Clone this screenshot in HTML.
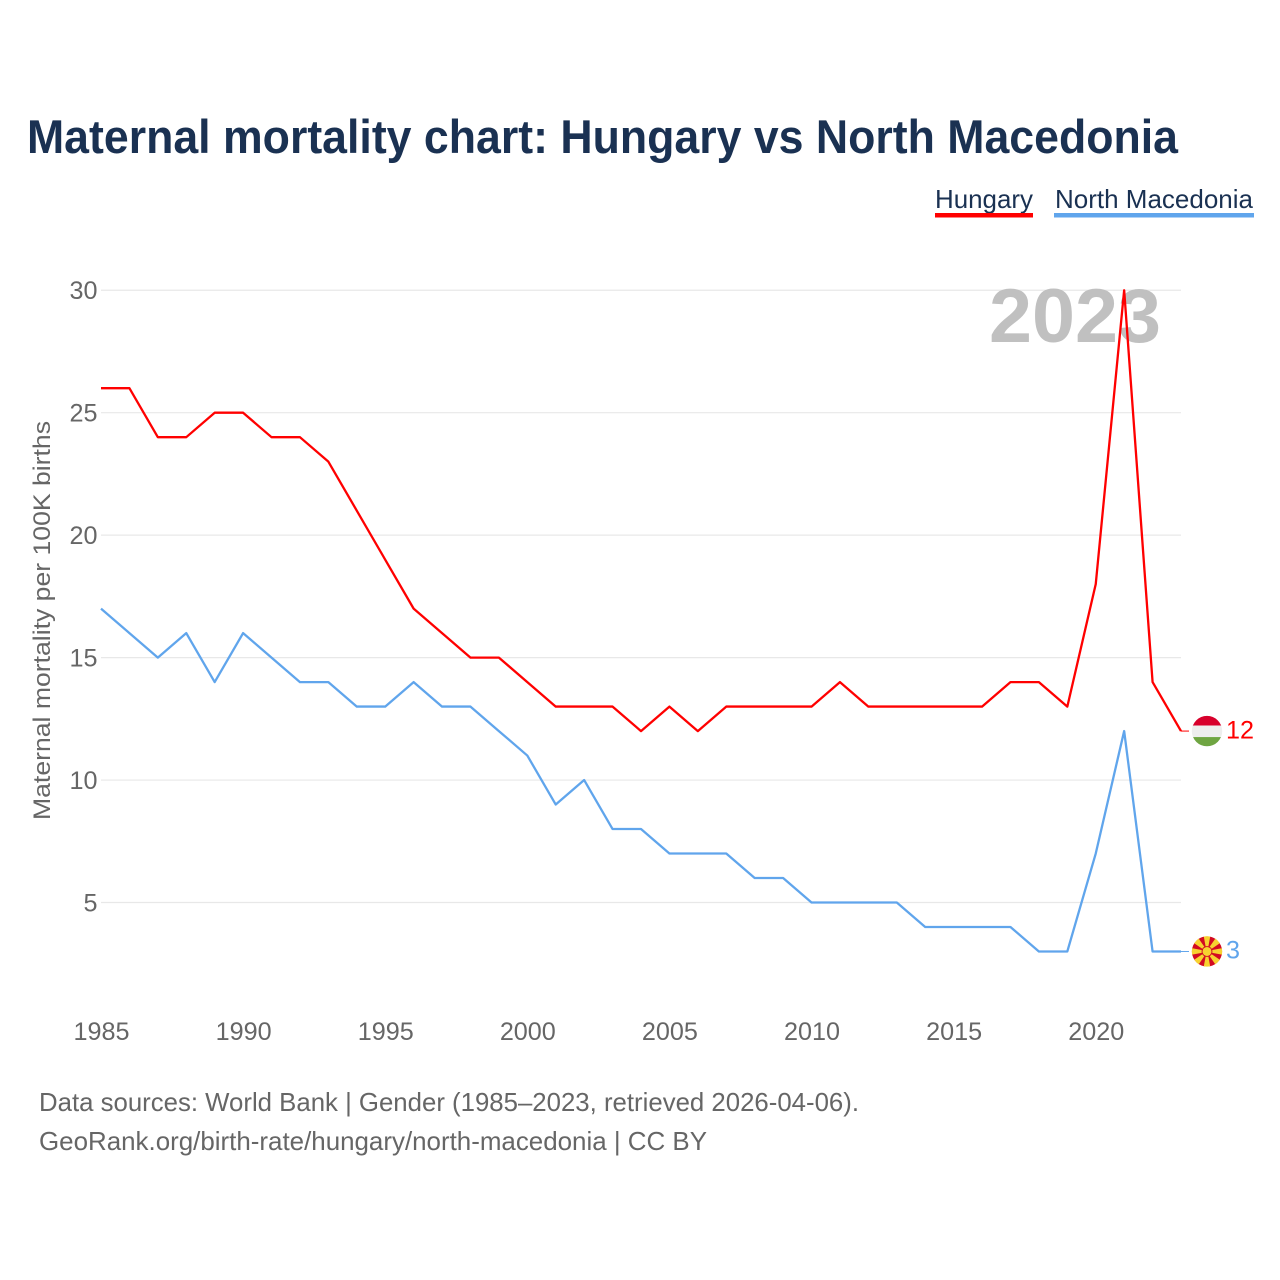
<!DOCTYPE html>
<html lang="en">
<head>
<meta charset="utf-8">
<title>Maternal mortality chart: Hungary vs North Macedonia</title>
<style>
html,body{margin:0;padding:0;background:#fff;width:1280px;height:1280px;overflow:hidden}
svg{display:block}
text{font-family:"Liberation Sans",sans-serif}
</style>
</head>
<body>
<svg id="chart" width="1280" height="1280" viewBox="0 0 1280 1280" xmlns="http://www.w3.org/2000/svg">
  <rect x="0" y="0" width="1280" height="1280" fill="#fff"/>
  <text x="27" y="153" font-size="47" font-weight="700" fill="#1a3152" textLength="1151" lengthAdjust="spacingAndGlyphs">Maternal mortality chart: Hungary vs North Macedonia</text>
  <g>
    <text x="935" y="208" font-size="26" fill="#1a3152" textLength="98" lengthAdjust="spacingAndGlyphs">Hungary</text>
    <rect x="935" y="213" width="98" height="4.5" fill="#ff0000"/>
  </g>
  <g>
    <text x="1055" y="208" font-size="26" fill="#1a3152" textLength="198" lengthAdjust="spacingAndGlyphs">North Macedonia</text>
    <rect x="1054" y="213" width="200" height="4.5" fill="#60a5ec"/>
  </g>
  <g id="grid"></g>
  <text x="989" y="342" font-size="76" font-weight="700" fill="#c0c0c0" textLength="172" lengthAdjust="spacingAndGlyphs">2023</text>
  <g id="yTicks"></g>
  <g id="xTicks"></g>
  <text transform="translate(50,620.5) rotate(-90)" text-anchor="middle" font-size="24" fill="#666" textLength="399" lengthAdjust="spacingAndGlyphs">Maternal mortality per 100K births</text>
  <g id="series"></g>
  <g id="endMarkers"></g>
  <text x="39" y="1111" font-size="26" fill="#666" textLength="820" lengthAdjust="spacingAndGlyphs">Data sources: World Bank | Gender (1985–2023, retrieved 2026-04-06).</text>
  <text x="39" y="1150" font-size="26" fill="#666" textLength="668" lengthAdjust="spacingAndGlyphs">GeoRank.org/birth-rate/hungary/north-macedonia | CC BY</text>
</svg>
<script>
const years = [1985,1986,1987,1988,1989,1990,1991,1992,1993,1994,1995,1996,1997,1998,1999,2000,2001,2002,2003,2004,2005,2006,2007,2008,2009,2010,2011,2012,2013,2014,2015,2016,2017,2018,2019,2020,2021,2022,2023];
const hungaryValues = [26,26,24,24,25,25,24,24,23,21,19,17,16,15,15,14,13,13,13,12,13,12,13,13,13,13,14,13,13,13,13,13,14,14,13,18,30,14,12];
const northMacedoniaValues = [17,16,15,16,14,16,15,14,14,13,13,14,13,13,12,11,9,10,8,8,7,7,7,6,6,5,5,5,5,4,4,4,4,3,3,7,12,3,3];
const yTickValues = [5,10,15,20,25,30];
const xTickValues = [1985,1990,1995,2000,2005,2010,2015,2020];

const NS = 'http://www.w3.org/2000/svg';
function xScale(year){ return 101 + (year - 1985) * (1181 - 101) / (2023 - 1985); }
function yScale(v){ return 902.5 - (v - 5) * 24.49; }
function make(tag, parent, attrs, text){
  const el = document.createElementNS(NS, tag);
  for (const k in attrs) el.setAttribute(k, attrs[k]);
  if (text !== undefined) el.textContent = text;
  parent.appendChild(el);
  return el;
}
const gridG = document.getElementById('grid');
const yG = document.getElementById('yTicks');
const xG = document.getElementById('xTicks');
const seriesG = document.getElementById('series');
const endG = document.getElementById('endMarkers');

yTickValues.forEach(function(v){
  const line = make('line', gridG, {x1:101, x2:1181, y1:yScale(v), y2:yScale(v), stroke:'#e8e8e8', 'stroke-width':1.2});
  
  
  const s = String(v);
  const label = make('text', yG, {x:97.5, y:yScale(v)+8.8, 'text-anchor':'end', 'font-size':25, fill:'#666', textLength:s.length*14, lengthAdjust:'spacingAndGlyphs'}, s);
  
  
});

xTickValues.forEach(function(y){
  const label = make('text', xG, {x:xScale(y)+0.5, y:1040, 'text-anchor':'middle', 'font-size':25, fill:'#666', textLength:56, lengthAdjust:'spacingAndGlyphs'}, String(y));
  
  
});

function linePoints(values){
  return values.map(function(v, i){ return xScale(years[i]).toFixed(2) + ',' + yScale(v).toFixed(2); }).join(' ');
}

const blueLine = make('polyline', seriesG, {points:linePoints(northMacedoniaValues), fill:'none', stroke:'#60a5ec', 'stroke-width':2.3, 'stroke-linejoin':'round'});


const redLine = make('polyline', seriesG, {points:linePoints(hungaryValues), fill:'none', stroke:'#ff0000', 'stroke-width':2.3, 'stroke-linejoin':'round'});



// End-of-line leaders, flags and value labels
const lastX = xScale(years[years.length-1]);
const flagX = lastX + 26;

const huY = yScale(hungaryValues[hungaryValues.length-1]);
const huLeader = make('line', endG, {x1:lastX, x2:lastX+8, y1:huY, y2:huY, stroke:'#ff0000', 'stroke-width':1});


const huFlag = make('g', endG, {transform:'translate('+flagX+','+huY+')'});


make('clipPath', huFlag, {id:'huClip'}).appendChild(document.createElementNS(NS,'circle')).setAttribute('r', 15.2);
const huStripes = make('g', huFlag, {'clip-path':'url(#huClip)'});
make('rect', huStripes, {x:-16, y:-16, width:32, height:10.5, fill:'#d8002c'});
make('rect', huStripes, {x:-16, y:-5.5, width:32, height:11.5, fill:'#eeeeee'});
make('rect', huStripes, {x:-16, y:6, width:32, height:10, fill:'#6fa542'});
const huLabel = make('text', endG, {x:1226, y:huY+7.3, 'font-size':25, fill:'#ff0000', textLength:28, lengthAdjust:'spacingAndGlyphs'}, String(hungaryValues[hungaryValues.length-1]));



const mkY = yScale(northMacedoniaValues[northMacedoniaValues.length-1]);
const mkLeader = make('line', endG, {x1:lastX, x2:lastX+8, y1:mkY, y2:mkY, stroke:'#60a5ec', 'stroke-width':1});


const mkFlag = make('g', endG, {transform:'translate('+flagX+','+mkY+')'});


make('clipPath', mkFlag, {id:'mkClip'}).appendChild(document.createElementNS(NS,'circle')).setAttribute('r', 15.2);
const mkDisc = make('g', mkFlag, {'clip-path':'url(#mkClip)'});
make('circle', mkDisc, {r:15.2, fill:'#d20a22'});
for (let a = 0; a < 360; a += 45) {
  make('polygon', mkDisc, {points:'-1.2,-4 1.2,-4 3.4,-16 -3.4,-16', fill:'#f7d230', transform:'rotate('+a+')'});
}
make('circle', mkDisc, {r:5.4, fill:'#d20a22'});
make('circle', mkDisc, {r:4.5, fill:'#f7d230'});
const mkLabel = make('text', endG, {x:1226, y:mkY+7, 'font-size':25, fill:'#60a5ec', textLength:14, lengthAdjust:'spacingAndGlyphs'}, String(northMacedoniaValues[northMacedoniaValues.length-1]));


</script>
</body>
</html>
